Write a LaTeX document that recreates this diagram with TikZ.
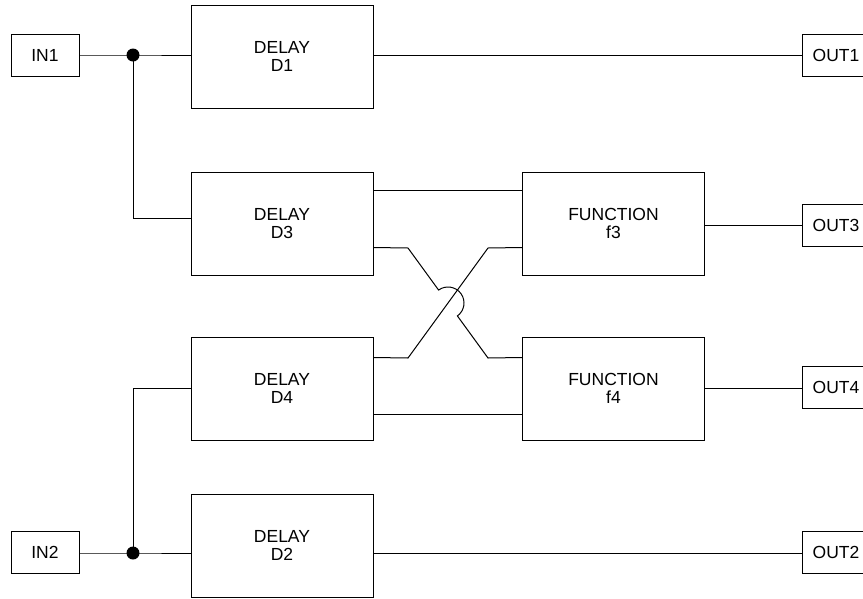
\documentclass[tikz,border=0pt]{standalone}
\usepackage{fontspec}
\setmainfont{Liberation Sans}
\usetikzlibrary{calc}
\begin{document}
\begin{tikzpicture}[x=1pt,y=-1pt,
  box/.style={draw, line width=1pt, minimum width=182pt, minimum height=103pt, align=center, inner sep=0pt, font=\fontsize{17.5}{18}\selectfont, execute at begin node={\rule{0pt}{19pt}}},
  io/.style={draw, line width=1pt, minimum width=68pt, minimum height=42pt, inner sep=0pt, font=\fontsize{17.5}{18}\selectfont},
  wire/.style={line width=1pt},
  jdot/.style={circle, fill, inner sep=0pt, minimum size=13pt}]
\useasboundingbox (0,0) rectangle (863,598);
\clip (0,0) rectangle (863,598);
% input / output boxes
\node[io] (IN1) at (45,55) {IN1};
\node[io] (IN2) at (45,552.5) {IN2};
\node[io] (OUT1) at (836,55.5) {OUT1};
\node[io] (OUT3) at (836,225) {OUT3};
\node[io] (OUT4) at (836,387) {OUT4};
\node[io] (OUT2) at (836,552.5) {OUT2};
% blocks
\node[box] (D1) at (282,56.5) {DELAY\\D1};
\node[box] (D3) at (282,223.5) {DELAY\\D3};
\node[box] (D4) at (282,388.5) {DELAY\\D4};
\node[box] (D2) at (282,545.5) {DELAY\\D2};
\node[box] (F3) at (613.5,223.5) {FUNCTION\\f3};
\node[box] (F4) at (613.5,388.5) {FUNCTION\\f4};
% junctions
\node[jdot] (j1) at (133,55) {};
\node[jdot] (j2) at (133,553) {};
% IN1 branch
\draw[wire] (IN1.east |- j1) -- (j1.center) -- (D1.west |- j1);
\draw[wire] (j1.center) |- ($(D3.north west)+(0,47)$);
\draw[wire] (D1.east |- j1) -- (OUT1.west |- j1);
% IN2 branch
\draw[wire] (IN2.east |- j2) -- (j2.center) -- (D2.west |- j2);
\draw[wire] (j2.center) |- ($(D4.north west)+(0,52)$);
\draw[wire] (D2.east |- j2) -- (OUT2.west |- j2);
% straight links
\draw[wire] ($(D3.north east)+(0,19)$) -- ($(F3.north west)+(0,19)$);
\draw[wire] ($(D4.north east)+(0,78)$) -- ($(F4.north west)+(0,78)$);
% crossing links
\coordinate (X) at (448,303);
\draw[wire] ($(D3.north east)+(0,76)$) -- (408,248) -- ($(X)+(-9.4,-12.95)$)
  arc[start angle=-126, end angle=54, radius=16] -- (488,358) -- ($(F4.north west)+(0,21)$);
\draw[wire] ($(D4.north east)+(0,21)$) -- (408,358) -- (488,248) -- ($(F3.north west)+(0,76)$);
% outputs of functions
\draw[wire] ($(F3.north east)+(0,54)$) -- (OUT3.west |- {$(F3.north east)+(0,54)$});
\draw[wire] ($(F4.north east)+(0,52)$) -- (OUT4.west |- {$(F4.north east)+(0,52)$});
\end{tikzpicture}
\end{document}
